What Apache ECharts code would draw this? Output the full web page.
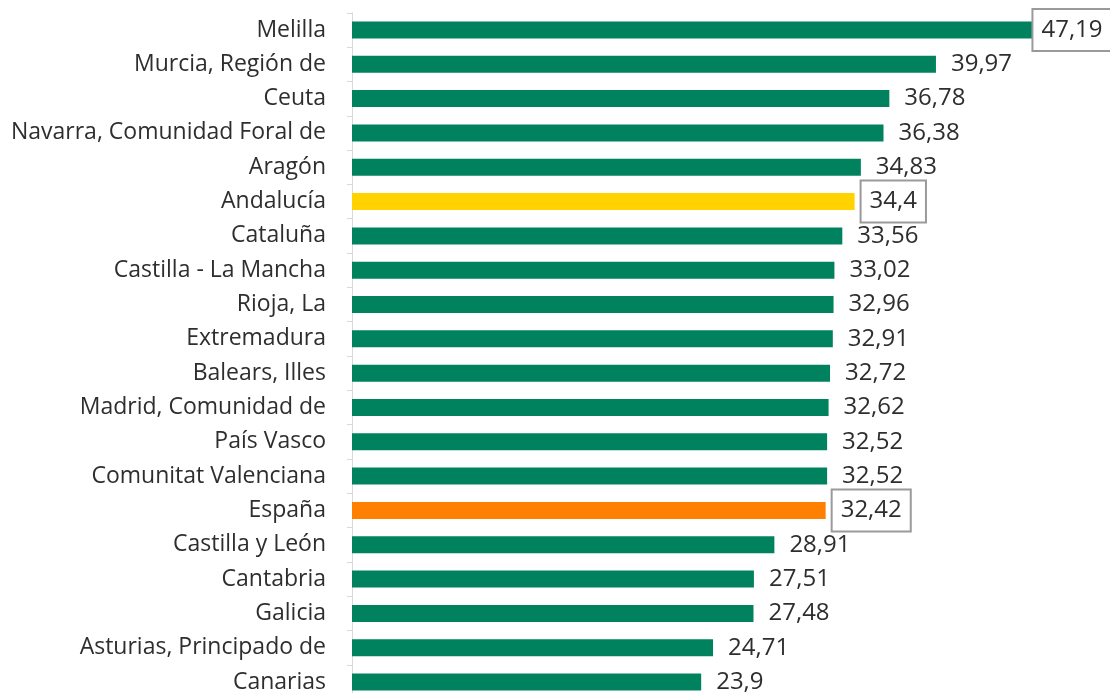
<!DOCTYPE html>
<html>
<head>
<meta charset="utf-8">
<script src="https://cdn.jsdelivr.net/npm/echarts@6/dist/echarts.min.js"></script>
<style>
  html, body { margin: 0; padding: 0; background: #fff; }
  #chart { width: 1110px; height: 693px; }
</style>
</head>
<body>
<div id="chart"></div>
<script>
// datos por comunidad autónoma
const categories = [
  'Melilla', 'Murcia, Región de', 'Ceuta', 'Navarra, Comunidad Foral de', 'Aragón',
  'Andalucía', 'Cataluña', 'Castilla - La Mancha', 'Rioja, La', 'Extremadura',
  'Balears, Illes', 'Madrid, Comunidad de', 'País Vasco', 'Comunitat Valenciana', 'España',
  'Castilla y León', 'Cantabria', 'Galicia', 'Asturias, Principado de', 'Canarias'
]
const values = [
  47.19, 39.97, 36.78, 36.38, 34.83,
  34.4, 33.56, 33.02, 32.96, 32.91,
  32.72, 32.62, 32.52, 32.52, 32.42,
  28.91, 27.51, 27.48, 24.71, 23.9
]
const boxed = ['Melilla', 'Andalucía', 'España']

const barColors = { 'Andalucía': '#FFD200', 'España': '#FF8000' }

const chart = echarts.init(document.getElementById('chart'))

const data = values.map((v, i) => {
  const name = categories[i]
  const item = { value: v, itemStyle: { color: barColors[name] || '#00825E' } }
  if (boxed.includes(name)) {
    item.label = { borderColor: '#9a9a9a', borderWidth: 2, backgroundColor: '#fff' }
    if (name === 'Melilla') item.label.distance = -8
  }
  return item
})

chart.setOption({
  animation: false,
  grid: { left: 352, right: 27.5, top: 12.8, height: 686.4, outerBoundsMode: 'none' },
  xAxis: { type: 'value', min: 0, max: 50, show: false },
  yAxis: {
    type: 'category',
    data: categories,
    inverse: true,
    axisLine: { show: true, lineStyle: { color: '#d9d9d9', width: 1 } },
    axisTick: { show: true, length: 5, lineStyle: { color: '#d9d9d9' } },
    axisLabel: { margin: 26, fontFamily: 'Open Sans', fontSize: 23, color: '#2e2e2e' }
  },
  series: [{
    type: 'bar',
    data: data,
    barWidth: 17,
    label: {
      show: true,
      position: 'right',
      distance: 7,
      padding: [8, 8],
      fontFamily: 'Open Sans',
      fontSize: 24,
      color: '#2e2e2e',
      formatter: p => String(p.value).replace('.', ',')
    }
  }]
})
</script>
</body>
</html>
